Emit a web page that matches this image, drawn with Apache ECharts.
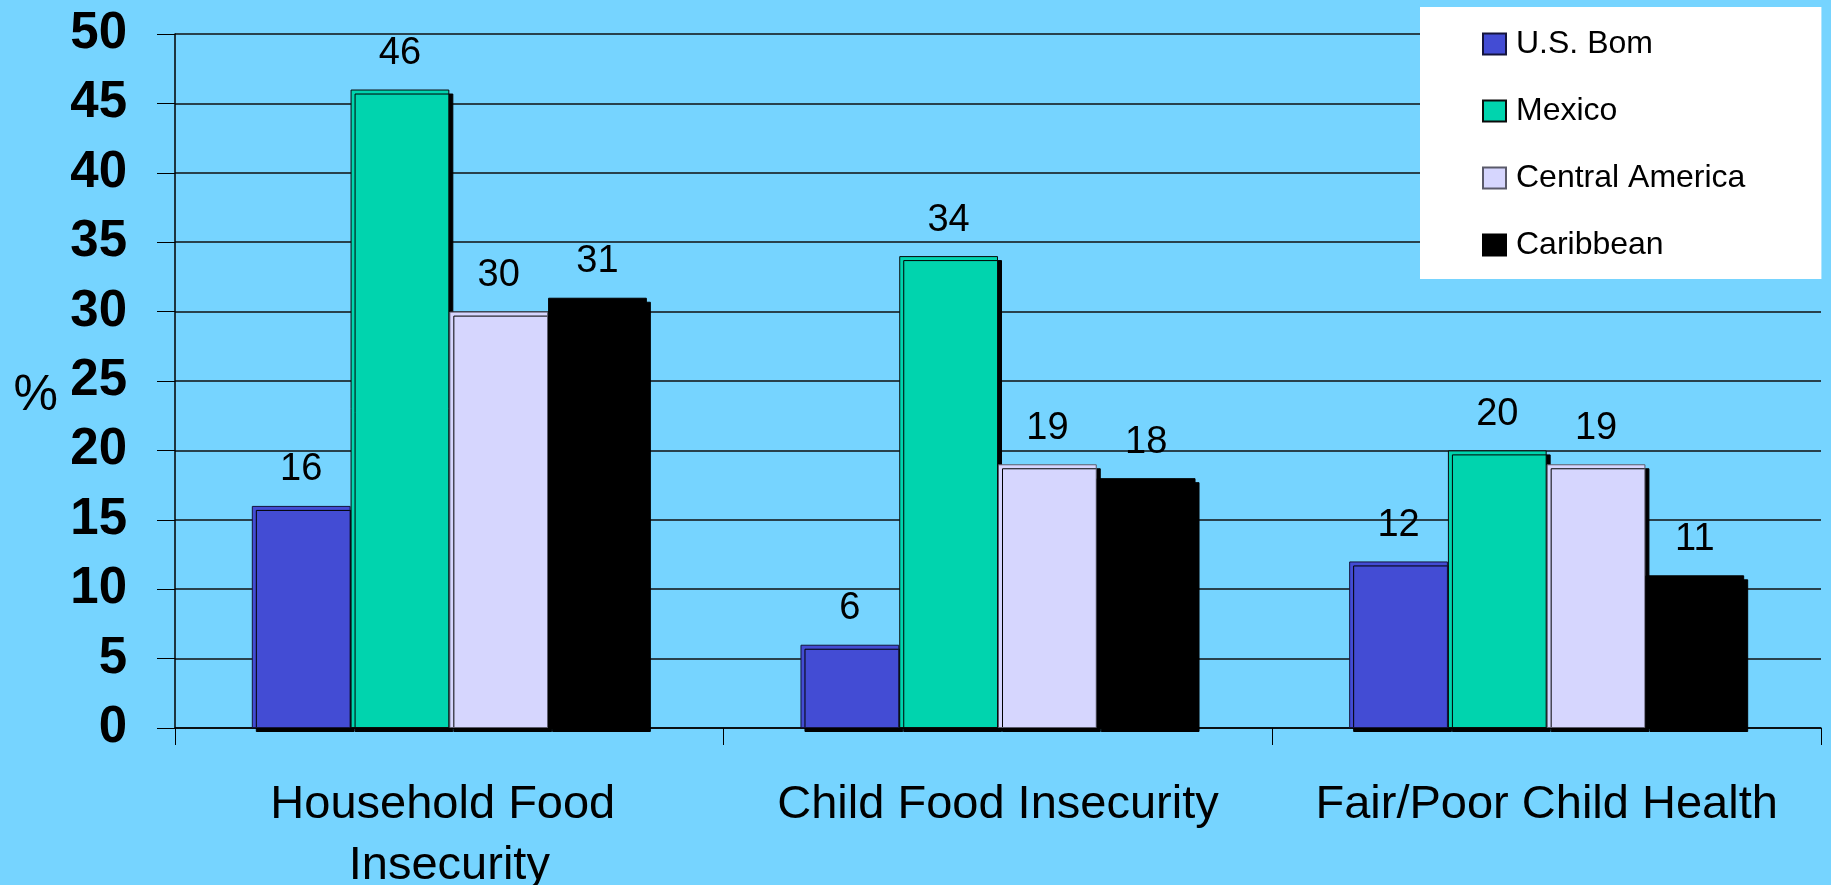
<!DOCTYPE html>
<html>
<head>
<meta charset="utf-8">
<script src="https://cdn.jsdelivr.net/npm/echarts@6/dist/echarts.min.js"></script>
<style>
html,body{margin:0;padding:0;background:#76D4FF;}
#chart{width:1831px;height:885px;}
</style>
</head>
<body>
<div id="chart"></div>
<script>
const categories = ['Household Food Insecurity', 'Child Food Insecurity', 'Fair/Poor Child Health'];
const usBorn = [16, 6, 12];
const mexico = [46, 34, 20];
const centralAmerica = [30, 19, 19];
const caribbean = [31, 18, 11];
const seriesNames = ['U.S. Bom', 'Mexico', 'Central America', 'Caribbean'];
const yTicks = { min: 0, max: 50, interval: 5 };

const colors = ['#434CD4', '#00D4AE', '#D6D6FE', '#000000'];
const borders = ['#14143c', '#0a0a0a', '#5a5a6a', '#000000'];
const dataSets = [usBorn, mexico, centralAmerica, caribbean];

const chart = echarts.init(document.getElementById('chart'));
const font = 'Liberation Sans, Arial, sans-serif';

const series = dataSets.map((d, i) => ({
  name: seriesNames[i],
  type: 'bar',
  data: d,
  barGap: '0%',
  barCategoryGap: '28%',
  itemStyle: {
    color: colors[i],
    borderColor: borders[i],
    borderWidth: 1,
    shadowColor: '#000',
    shadowOffsetX: 4,
    shadowOffsetY: 4,
    shadowBlur: 0
  },
  label: {
    show: true,
    position: 'top',
    distance: 17,
    color: '#000',
    fontFamily: font,
    fontSize: 38
  }
}));

chart.setOption({
  backgroundColor: '#76D4FF',
  animation: false,
  grid: { left: 175, right: 10, top: 34, bottom: 157, containLabel: false, outerBoundsMode: 'none' },
  legend: {
    orient: 'vertical',
    left: 1420,
    top: 7,
    backgroundColor: '#ffffff',
    padding: [21, 76, 18, 62],
    itemWidth: 23,
    itemHeight: 21,
    itemGap: 35,
    itemStyle: { shadowColor: 'transparent', shadowBlur: 0, shadowOffsetX: 0, shadowOffsetY: 0 },
    textStyle: { fontFamily: font, fontSize: 32, color: '#000', padding: [0, 0, 0, 5] },
    data: seriesNames.map(n => ({ name: n, icon: 'rect' }))
  },
  xAxis: {
    type: 'category',
    data: categories,
    axisLine: { lineStyle: { color: '#000', width: 1.5 } },
    axisTick: { show: true, length: 17, lineStyle: { color: '#000', width: 1 } },
    axisLabel: {
      fontFamily: font,
      fontSize: 47,
      color: '#000',
      margin: 47,
      lineHeight: 61,
      width: 540,
      overflow: 'break',
      interval: 0
    }
  },
  yAxis: {
    type: 'value',
    min: yTicks.min,
    max: yTicks.max,
    interval: yTicks.interval,
    name: '%',
    nameLocation: 'middle',
    nameRotate: 0,
    nameGap: 117,
    nameTextStyle: { fontFamily: font, fontSize: 50, color: '#000', verticalAlign: 'top', lineHeight: 30 },
    axisLine: { show: true, lineStyle: { color: '#000', width: 1.5 } },
    axisTick: { show: true, length: 18, lineStyle: { color: '#000', width: 1 } },
    splitLine: { show: true, lineStyle: { color: '#111', width: 1.5 } },
    axisLabel: {
      fontFamily: font,
      fontWeight: 'bold',
      fontSize: 51,
      color: '#000',
      margin: 48
    }
  },
  series: series
});
</script>
</body>
</html>
